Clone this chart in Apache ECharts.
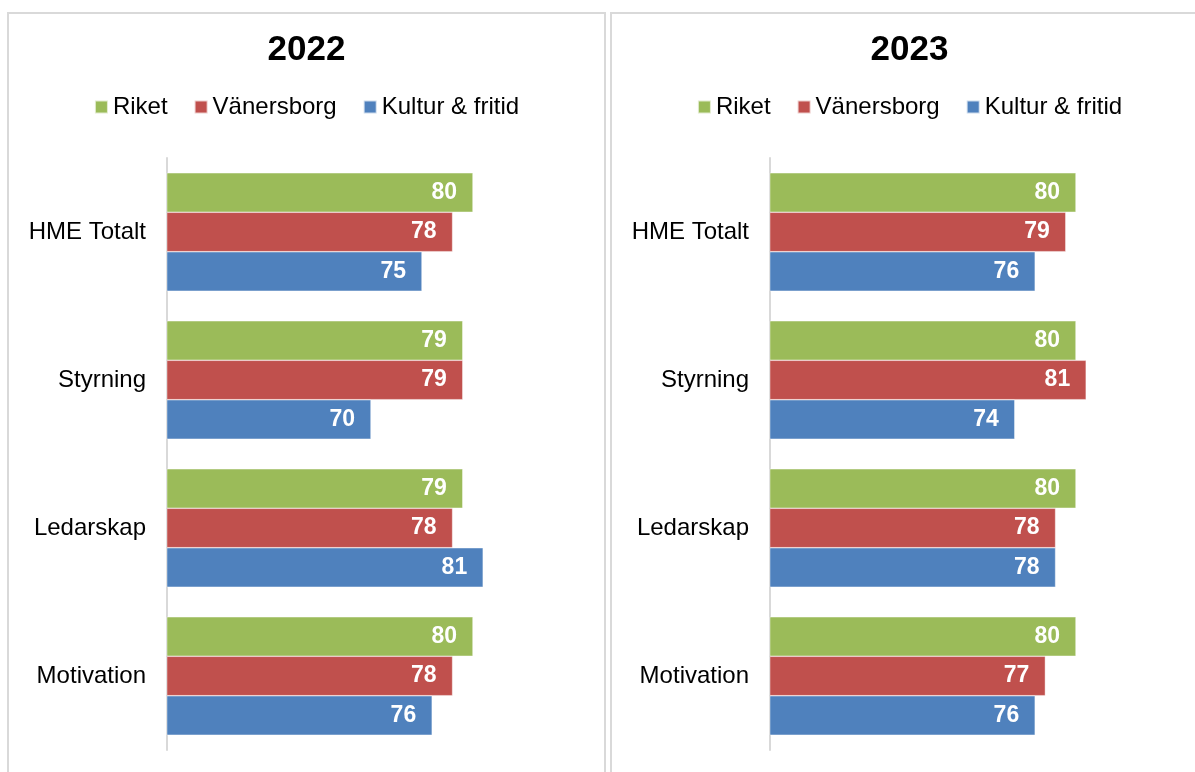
<!DOCTYPE html>
<html><head><meta charset="utf-8">
<script src="https://cdn.jsdelivr.net/npm/echarts@6/dist/echarts.min.js"></script>
<style>
html,body{margin:0;padding:0;width:1195px;height:772px;overflow:hidden;background:#fff;}
.panel{position:absolute;top:12px;height:800px;border:2px solid #d9d9d9;box-sizing:border-box;}
.chart{position:absolute;top:12px;height:760px;width:597px;}
</style></head>
<body>
<div class="panel" style="left:7px;width:599px;"></div>
<div class="panel" style="left:610px;width:620px;"></div>
<div id="c1" class="chart" style="left:8px;"></div>
<div id="c2" class="chart" style="left:611px;"></div>
<script>
const categories = ['HME Totalt', 'Styrning', 'Ledarskap', 'Motivation'];
const seriesNames = ['Riket', 'Vänersborg', 'Kultur & fritid'];
const riket2022 = [80, 79, 79, 80];
const vanersborg2022 = [78, 79, 78, 78];
const kultur2022 = [75, 70, 81, 76];
const riket2023 = [80, 80, 80, 80];
const vanersborg2023 = [79, 81, 78, 77];
const kultur2023 = [76, 74, 78, 76];
const colors = ['#9BBB59', '#C0504D', '#4F81BD'];
const FONT = '"Liberation Sans", Arial, sans-serif';

function makeOption(title, values) {
  return {
    animation: false,
    textStyle: { fontFamily: FONT },
    title: {
      text: title, left: 'center', top: 16,
      textStyle: { fontSize: 35, fontWeight: 'bold', color: '#000', fontFamily: FONT }
    },
    legend: {
      top: 78, left: 'center', itemWidth: 13, itemHeight: 13, itemGap: 26,
      icon: 'rect',
      textStyle: { fontSize: 24, color: '#000', fontFamily: FONT, padding: [0, 0, 0, 0] },
      data: seriesNames
    },
    grid: { left: 159, top: 146, width: 408, height: 592 },
    xAxis: { type: 'value', min: 50, max: 90, show: false },
    yAxis: {
      type: 'category', data: categories, inverse: true,
      axisLine: { show: true, lineStyle: { color: '#d9d9d9', width: 2 } },
      axisTick: { show: false },
      axisLabel: { fontSize: 24, color: '#000', margin: 21, fontFamily: FONT }
    },
    series: values.map((v, i) => ({
      name: seriesNames[i], type: 'bar', data: v,
      barGap: '0%', barCategoryGap: '20%',
      itemStyle: { color: colors[i], borderColor: 'rgba(255,255,255,0.7)', borderWidth: 0.6 },
      label: {
        show: true, position: 'insideRight', distance: 16,
        color: '#fff', fontWeight: 'bold', fontSize: 23, fontFamily: FONT
      }
    }))
  };
}

const c1 = echarts.init(document.getElementById('c1'));
c1.setOption(makeOption('2022', [riket2022, vanersborg2022, kultur2022]));
const c2 = echarts.init(document.getElementById('c2'));
c2.setOption(makeOption('2023', [riket2023, vanersborg2023, kultur2023]));
</script>
</body></html>
